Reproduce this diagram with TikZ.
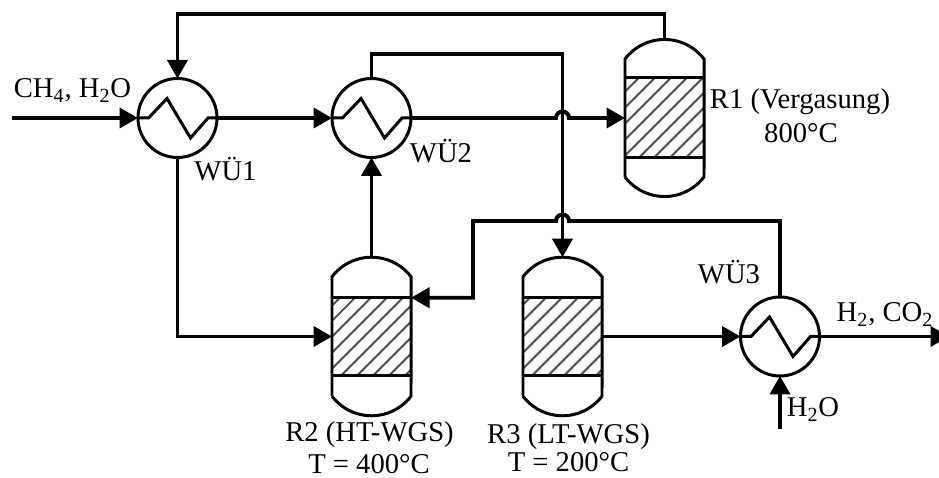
\documentclass[tikz,border=0pt]{standalone}
\usepackage{fontspec}
\setmainfont{Liberation Serif}
\usetikzlibrary{arrows.meta,calc,patterns.meta}

\tikzset{
    pipe/.style={line width=2.25pt},
    flow/.style={pipe,-{Triangle[length=3.7mm,width=4mm]}},
    thin line/.style={line width=1.7pt},
    hx/.style={circle,draw,thin line,minimum size=1.58cm,inner sep=0pt,outer sep=0pt},
    bed/.style={draw,thin line,minimum width=1.58cm,inner sep=0pt,outer sep=0pt,
        pattern={Lines[angle=45,distance=6.4pt,line width=1.2pt]},pattern color=black!70},
    txt/.style={font=\fontsize{16.3}{19}\selectfont,inner sep=0pt,anchor=base}
}

\begin{document}
\begin{tikzpicture}
    \clip (0,0) rectangle (18.78,9.56);

    \node[hx] (wu1) at (3.55,7.20) {};
    \node[hx] (wu2) at (7.43,7.20) {};
    \node[hx] (wu3) at (15.60,2.83) {};

    \node[bed,minimum height=1.60cm] (r1) at (13.29,7.20) {};
    \node[bed,minimum height=1.55cm] (r2) at (7.43,2.83) {};
    \node[bed,minimum height=1.55cm] (r3) at (11.25,2.83) {};

    \foreach \h in {wu1,wu2,wu3}
        \draw[thin line] (\h.west) -- ++(0.21,0) -- ++(0.37,0.39) -- ++(0.47,-0.79) -- ++(0.35,0.40) -- (\h.east);

    \foreach \r/\d in {r1/0.38,r2/0.42,r3/0.42} {
        \draw[thin line] ($(\r.south west)+(0,-\d)$) -- ($(\r.north west)+(0,\d)$)
            arc[start angle=142.6,end angle=37.4,radius=0.995] -- ($(\r.south east)+(0,-\d)$)
            arc[start angle=-37.4,end angle=-142.6,radius=0.995];
        \coordinate (\r-top) at ($(\r.north)+(0,\d+0.39)$);
    }

    \coordinate (inlet) at (0.24,7.20);
    \coordinate (outlet) at (18.98,2.83);
    \coordinate (water) at (15.60,0.98);
    \coordinate (c1) at (3.55,9.28);
    \coordinate (c2) at (11.25,8.48);
    \coordinate (c3) at (9.46,5.14);
    \coordinate (jump1) at (11.25,7.20);
    \coordinate (jump2) at (11.25,5.14);

    \draw[flow] (inlet) -- (wu1.west);
    \draw[flow] (wu1.east) -- (wu2.west);
    \draw[flow] (wu2.east) -- ($(jump1)+(-0.13,0)$) arc[start angle=180,end angle=0,radius=0.13] -- (r1.west);
    \draw[flow] (r1-top) |- (c1) -- (wu1.north);
    \draw[flow] (wu2.north) |- (c2) -- (r3-top);
    \draw[flow] (wu1.south) |- (r2.west);
    \draw[flow] (r2-top) -- (wu2.south);
    \draw[flow] (r3.east) -- (wu3.west);
    \draw[flow] (wu3.east) -- (outlet);
    \draw[flow] (water) -- (wu3.south);
    \draw[flow] (wu3.north) |- ($(jump2)+(0.13,0)$) arc[start angle=0,end angle=180,radius=0.13] -- (c3) |- (r2.north east);

    \node[txt] (feed) at (1.45,7.60) {CH\textsubscript{4}, H\textsubscript{2}O};
    \node[txt] (wu1 text) at (4.51,5.94) {WÜ1};
    \node[txt] (wu2 text) at (8.82,6.30) {WÜ2};
    \node[txt] (wu3 text) at (14.58,3.88) {WÜ3};
    \node[txt] (product) at (17.70,3.12) {H\textsubscript{2}, CO\textsubscript{2}};
    \node[txt] (water text) at (16.26,1.22) {H\textsubscript{2}O};

    \node[txt] (r1 text) at (16.00,7.38) {R1 (Vergasung)};
    \node[txt] (r1 temp) at (16.02,6.70) {800°C};
    \node[txt] (r2 text) at (7.39,0.72) {R2 (HT-WGS)};
    \node[txt] (r2 temp) at (7.38,0.09) {T = 400°C};
    \node[txt] (r3 text) at (11.37,0.68) {R3 (LT-WGS)};
    \node[txt] (r3 temp) at (11.37,0.13) {T = 200°C};
\end{tikzpicture}
\end{document}
